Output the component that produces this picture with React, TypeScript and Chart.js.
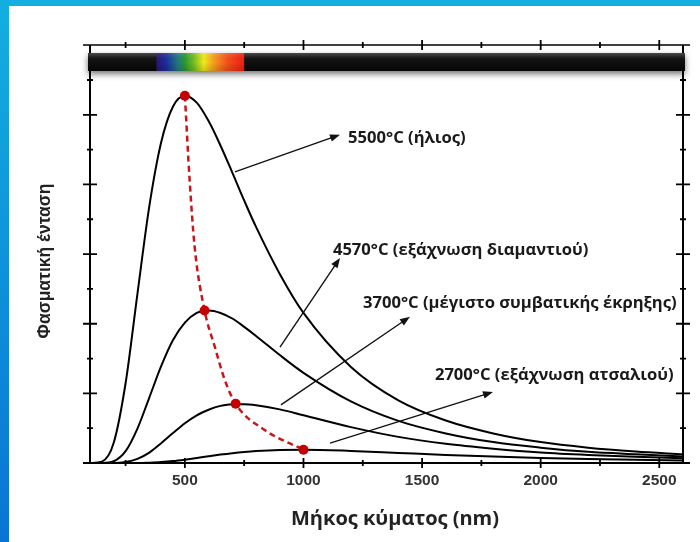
import React, { useEffect, useRef } from "react";
import { Chart, registerables } from "chart.js";

Chart.register(...registerables);

// Wavelength samples (nm)
const wavelengths = [100, 150, 200, 250, 300, 350, 400, 450, 500, 550, 600, 650, 700, 750, 800, 900, 1000, 1200, 1400, 1600, 1800, 2000, 2200, 2400, 2600];

// Spectral intensity (arbitrary units, axis 0..11)
const curve5500 = [0.0, 0.04, 0.58, 2.29, 4.86, 7.37, 9.21, 10.24, 10.55, 10.35, 9.82, 9.12, 8.34, 7.54, 6.78, 5.43, 4.31, 2.76, 1.8, 1.22, 0.85, 0.6, 0.44, 0.33, 0.25];
const curve4570 = [0.0, 0.0, 0.05, 0.34, 0.99, 1.88, 2.78, 3.53, 4.03, 4.31, 4.38, 4.31, 4.15, 3.91, 3.65, 3.1, 2.59, 1.77, 1.21, 0.85, 0.6, 0.44, 0.32, 0.25, 0.19];
const curve3700 = [0.0, 0.0, 0.0, 0.03, 0.12, 0.3, 0.57, 0.86, 1.14, 1.37, 1.53, 1.64, 1.69, 1.69, 1.66, 1.54, 1.37, 1.03, 0.75, 0.55, 0.41, 0.3, 0.23, 0.18, 0.14];
const curve2700 = [0.0, 0.0, 0.0, 0.0, 0.0, 0.01, 0.026, 0.055, 0.096, 0.143, 0.193, 0.241, 0.283, 0.318, 0.345, 0.376, 0.382, 0.347, 0.29, 0.233, 0.185, 0.146, 0.116, 0.092, 0.074];

// Wien peak locus (red dashed)
const wienNm = [500, 520, 541, 583, 626, 668, 714, 836, 1000];
const wienVal = [10.55, 8.13, 6.22, 4.38, 3.34, 2.39, 1.7, 0.95, 0.38];
const wienDot = [5, 0, 0, 5, 0, 0, 5, 0, 5];

// Annotation labels: text, text anchor (nm, value), arrow start (nm, value), arrow tip (nm, value)
const labelTexts = ["5500°C (ήλιος)", "4570°C (εξάχνωση διαμαντιού)", "3700°C (μέγιστο συμβατικής έκρηξης)", "2700°C (εξάχνωση ατσαλιού)"];
const labelAt = [[1188, 9.34], [1124, 6.12], [1251, 4.6], [1554, 2.53]];
const arrowFrom = [[711, 8.36], [901, 3.33], [905, 1.67], [1112, 0.57]];
const arrowTo = [[1154, 9.43], [1154, 5.89], [1449, 4.2], [1799, 2.04]];

const xLabelTicks = [500, 1000, 1500, 2000, 2500];
const xMarkTicks = [250, 500, 750, 1000, 1250, 1500, 1750, 2000, 2250, 2500];
const yMarkTicks = [0, 1, 2, 3, 4, 5, 6, 7, 8, 9, 10, 11];

const spectrumStops: [number, string][] = [
  [380, "#2a1670"], [420, "#1d2aa0"], [470, "#1f7a80"], [500, "#2a9a30"], [540, "#7cc020"],
  [580, "#f2ee1a"], [620, "#f8a020"], [680, "#f5501a"], [750, "#f01e12"],
];

const xTitle = "Μήκος κύματος (nm)";
const yTitle = "Φασματική ένταση";

function pts(ys: number[]) {
  return wavelengths.map((x, i) => ({ x, y: ys[i] }));
}

function drawArrow(ctx: CanvasRenderingContext2D, x1: number, y1: number, x2: number, y2: number) {
  const ang = Math.atan2(y2 - y1, x2 - x1);
  const hl = 10, hw = 3.8;
  ctx.beginPath();
  ctx.moveTo(x1, y1);
  ctx.lineTo(x2 - Math.cos(ang) * hl * 0.8, y2 - Math.sin(ang) * hl * 0.8);
  ctx.stroke();
  ctx.beginPath();
  ctx.moveTo(x2, y2);
  ctx.lineTo(x2 - Math.cos(ang) * hl + Math.sin(ang) * hw, y2 - Math.sin(ang) * hl - Math.cos(ang) * hw);
  ctx.lineTo(x2 - Math.cos(ang) * hl - Math.sin(ang) * hw, y2 - Math.sin(ang) * hl + Math.cos(ang) * hw);
  ctx.closePath();
  ctx.fill();
}

const decor = {
  id: "decor",
  afterDatasetsDraw(chart: any) {
    const ctx: CanvasRenderingContext2D = chart.ctx;
    const xs = chart.scales.x;
    const ys = chart.scales.y;
    const { left, right, bottom } = chart.chartArea;
    ctx.save();

    const barTop = 53, barBot = 71, lineY = 45;
    const bl = left - 2, br = right + 2;

    // spectrum bar with shadow
    ctx.save();
    ctx.shadowColor = "rgba(0,0,0,0.55)";
    ctx.shadowBlur = 6;
    ctx.shadowOffsetY = 3;
    const g = ctx.createLinearGradient(0, barTop, 0, barBot);
    g.addColorStop(0, "#4a4a4a");
    g.addColorStop(0.3, "#151515");
    g.addColorStop(1, "#050505");
    ctx.fillStyle = g;
    ctx.fillRect(bl, barTop, br - bl, barBot - barTop);
    ctx.restore();
    const s0 = xs.getPixelForValue(spectrumStops[0][0]);
    const s1 = xs.getPixelForValue(spectrumStops[spectrumStops.length - 1][0]);
    const rg = ctx.createLinearGradient(s0, 0, s1, 0);
    spectrumStops.forEach(([nm, c]) => rg.addColorStop((xs.getPixelForValue(nm) - s0) / (s1 - s0), c));
    ctx.fillStyle = rg;
    ctx.fillRect(s0, barTop, s1 - s0, barBot - barTop);
    const gl = ctx.createLinearGradient(0, barTop, 0, barBot);
    gl.addColorStop(0, "rgba(255,255,255,0.12)");
    gl.addColorStop(0.5, "rgba(0,0,0,0)");
    gl.addColorStop(1, "rgba(0,0,0,0.15)");
    ctx.fillStyle = gl;
    ctx.fillRect(s0, barTop, s1 - s0, barBot - barTop);

    // axes frame
    ctx.strokeStyle = "#000";
    ctx.lineWidth = 2;
    ctx.beginPath();
    ctx.moveTo(left - 7, bottom); ctx.lineTo(right, bottom);
    ctx.moveTo(left, lineY); ctx.lineTo(left, barTop);
    ctx.moveTo(left, barBot); ctx.lineTo(left, bottom);
    ctx.moveTo(right, lineY); ctx.lineTo(right, barTop);
    ctx.moveTo(right, barBot); ctx.lineTo(right, bottom);
    ctx.stroke();
    ctx.lineWidth = 1.6;
    ctx.beginPath();
    ctx.moveTo(left - 7, lineY); ctx.lineTo(right + 7, lineY);
    ctx.stroke();

    // ticks
    ctx.lineWidth = 1.8;
    ctx.beginPath();
    xMarkTicks.forEach((v) => {
      const px = xs.getPixelForValue(v);
      const major = v % 500 === 0;
      const h = major ? 5 : 3;
      ctx.moveTo(px, bottom - h); ctx.lineTo(px, bottom + h);
      ctx.moveTo(px, lineY - h); ctx.lineTo(px, lineY + h);
    });
    yMarkTicks.forEach((v) => {
      const py = ys.getPixelForValue(v);
      const major = v % 2 === 0;
      const w = major ? 7 : 3;
      ctx.moveTo(left - w, py); ctx.lineTo(left + w, py);
      ctx.moveTo(right - w, py); ctx.lineTo(right + w, py);
    });
    ctx.stroke();

    // annotations
    ctx.strokeStyle = "#111";
    ctx.fillStyle = "#111";
    ctx.lineWidth = 1.4;
    arrowFrom.forEach((f, i) => {
      drawArrow(ctx, xs.getPixelForValue(f[0]), ys.getPixelForValue(f[1]), xs.getPixelForValue(arrowTo[i][0]), ys.getPixelForValue(arrowTo[i][1]));
    });
    ctx.fillStyle = "#1a1a1a";
    ctx.font = "bold 16.6px 'Open Sans'";
    ctx.textAlign = "left";
    ctx.textBaseline = "middle";
    labelTexts.forEach((t, i) => {
      ctx.fillText(t, xs.getPixelForValue(labelAt[i][0]), ys.getPixelForValue(labelAt[i][1]));
    });

    // axis titles
    ctx.fillStyle = "#222";
    ctx.font = "bold 20px 'Open Sans'";
    ctx.textAlign = "center";
    ctx.fillText(xTitle, 395, 519);
    ctx.save();
    ctx.translate(45, 261);
    ctx.rotate(-Math.PI / 2);
    ctx.font = "bold 17.5px 'Liberation Sans'";
    ctx.fillText(yTitle, 0, 0);
    ctx.restore();

    ctx.restore();
  },
};

export default function App() {
  const ref = useRef<HTMLCanvasElement>(null);
  useEffect(() => {
    document.body.style.margin = "0";
    const canvas = ref.current!;
    const chart = new Chart(canvas, {
      type: "line",
      data: {
        datasets: [
          {
            data: wienNm.map((x, i) => ({ x, y: wienVal[i] })),
            borderColor: "#c8161d",
            borderWidth: 2.5,
            borderDash: [6, 4],
            pointRadius: wienDot,
            pointBackgroundColor: "#c40000",
            pointBorderWidth: 0,
            cubicInterpolationMode: "monotone",
            order: 0,
          },
          ...[curve5500, curve4570, curve3700, curve2700].map((c) => ({
            data: pts(c),
            borderColor: "#000",
            borderWidth: 2,
            pointRadius: 0,
            cubicInterpolationMode: "monotone" as const,
            order: 1,
          })),
        ],
      },
      options: {
        animation: false,
        responsive: false,
        events: [],
        layout: { padding: { left: 0, right: 17, top: 80, bottom: 0 } },
        plugins: { legend: { display: false }, tooltip: { enabled: false } },
        scales: {
          x: {
            type: "linear",
            min: 100,
            max: 2600,
            afterFit: (s: any) => { s.height = 79; },
            afterBuildTicks: (s: any) => { s.ticks = xLabelTicks.map((v) => ({ value: v })); },
            grid: { display: false, drawTicks: false },
            border: { display: false },
            ticks: {
              autoSkip: false,
              maxRotation: 0,
              padding: 8,
              color: "#333",
              font: { family: "'Liberation Sans', Arial", weight: "bold", size: 15.5 },
              callback: (v: any) => String(v),
            },
          },
          y: {
            type: "linear",
            min: 0,
            max: 11,
            afterFit: (s: any) => { s.width = 90; },
            grid: { display: false, drawTicks: false },
            border: { display: false },
            ticks: { display: false, stepSize: 1 },
          },
        },
      },
      plugins: [decor],
    } as any);
    return () => chart.destroy();
  }, []);
  return (
    <div style={{ position: "relative", width: 700, height: 542, background: "#fff", overflow: "hidden" }}>
      <div style={{ position: "absolute", left: 0, top: 0, width: 700, height: 6, background: "#13afe0" }} />
      <div style={{ position: "absolute", left: 0, top: 0, width: 9, height: 542, background: "linear-gradient(#13afe0, #0a74d4)" }} />
      <canvas ref={ref} width={700} height={542} style={{ position: "absolute", left: 0, top: 0 }} />
    </div>
  );
}
